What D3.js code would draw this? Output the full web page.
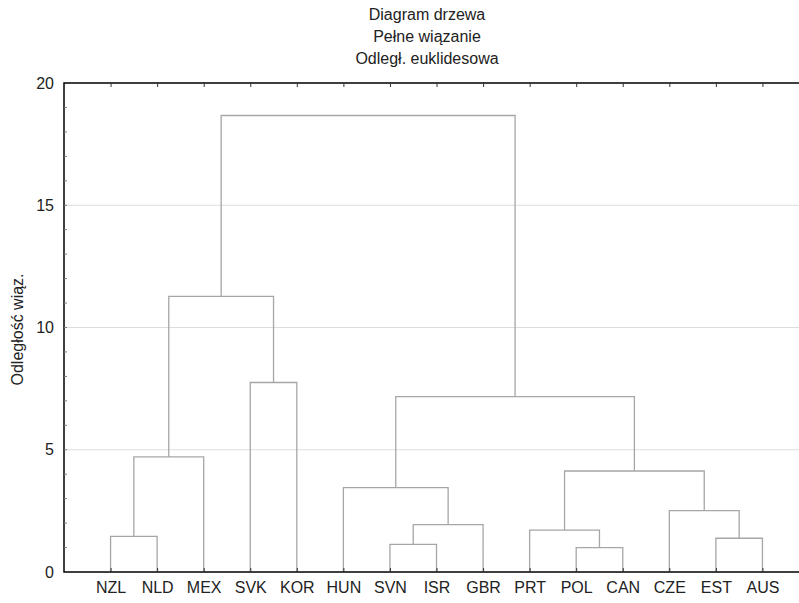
<!DOCTYPE html>
<html>
<head>
<meta charset="utf-8">
<script src="https://cdn.jsdelivr.net/npm/d3@7"></script>
<style>
  body { margin: 0; background: #fff; }
  svg { display: block; font-family: "Liberation Sans", Arial, sans-serif; }
</style>
</head>
<body>
<svg id="chart"></svg>
<script>
// leaf order along the x axis
const leaves = ['NZL','NLD','MEX','SVK','KOR','HUN','SVN','ISR','GBR','PRT','POL','CAN','CZE','EST','AUS'];

// merge steps: cluster m<i> joins mergeA[i] and mergeB[i] at mergeHeight[i]
const mergeA = ['POL','SVN','EST','NZL','PRT','m1','CZE','HUN','m4','m3','m7','SVK','m9','m12'];
const mergeB = ['CAN','ISR','AUS','NLD','m0','GBR','m2','m5','m6','MEX','m8','KOR','m11','m10'];
const mergeHeight = [1.0, 1.13, 1.38, 1.46, 1.71, 1.94, 2.51, 3.45, 4.13, 4.71, 7.17, 7.75, 11.27, 18.67];

const yTicks = [0, 5, 10, 15, 20];
const titleLines = ['Diagram drzewa', 'Pełne wiązanie', 'Odległ. euklidesowa'];
const yLabel = 'Odległość wiąz.';

const W = 799, H = 603;
const margin = {top: 83, bottom: 31, left: 64, right: -10};
const width = W - margin.left - margin.right;
const height = H - margin.top - margin.bottom;

const svg = d3.select('#chart')
.attr('width', W)
.attr('height', H);

const g = svg.append('g')
.attr('transform', `translate(${margin.left}, ${margin.top})`);

const x = d3.scaleLinear()
.domain([-1, leaves.length])
.range([0, width]);

const y = d3.scaleLinear()
.domain([0, 20])
.range([height, 0]);

// grid lines
g.selectAll('.grid')
.data(yTicks.filter(d => d > 0 && d < 20))
.enter()
.append('line')
.attr('x1', 0)
.attr('x2', width)
.attr('y1', d => y(d))
.attr('y2', d => y(d))
.attr('stroke', '#dcdcdc')
.attr('stroke-width', 1);

// build node positions
const pos = {};
leaves.forEach((l, i) => { pos[l] = {x: x(i), h: 0}; });

const links = [];
mergeA.forEach((a, i) => {
  const b = mergeB[i];
  const h = mergeHeight[i];
  const pa = pos[a], pb = pos[b];
  links.push({x1: pa.x, h1: pa.h, x2: pb.x, h2: pb.h, h: h});
  pos['m' + i] = {x: (pa.x + pb.x) / 2, h: h};
});

g.selectAll('.link')
.data(links)
.enter()
.append('path')
.attr('fill', 'none')
.attr('stroke', '#a6a6a6')
.attr('stroke-width', 1.3)
.attr('d', d => `M${d.x1},${y(d.h1)}V${y(d.h)}H${d.x2}V${y(d.h2)}`);

// frame
g.append('rect')
.attr('x', 0)
.attr('y', 0)
.attr('width', width)
.attr('height', height)
.attr('fill', 'none')
.attr('stroke', '#000')
.attr('stroke-width', 1.5);

// left axis: labels outside, minor ticks inside
const yAxis = g.append('g')
.call(d3.axisLeft(y).tickValues(yTicks).tickSize(0).tickPadding(10));
yAxis.select('.domain').remove();
yAxis.selectAll('text')
.style('font-size', '16px')
.attr('fill', '#222')
.style('font-family', '"Liberation Sans", Arial, sans-serif');

g.selectAll('.minor')
.data(d3.range(1, 20))
.enter()
.append('line')
.attr('x1', 0)
.attr('x2', 3)
.attr('y1', d => y(d))
.attr('y2', d => y(d))
.attr('stroke', '#777')
.attr('stroke-width', 1);

// bottom axis with leaf names
const xAxis = g.append('g')
.attr('transform', `translate(0,${height})`)
.call(d3.axisBottom(x).tickValues(d3.range(leaves.length)).tickFormat(i => leaves[i]).tickSizeInner(-4).tickSizeOuter(0).tickPadding(10));
xAxis.select('.domain').remove();
xAxis.selectAll('line').attr('stroke', '#333');
xAxis.selectAll('text')
.style('font-size', '16px')
.attr('fill', '#222')
.style('font-family', '"Liberation Sans", Arial, sans-serif');

// top axis ticks pointing inward
const topAxis = g.append('g')
.call(d3.axisTop(x).tickValues(d3.range(leaves.length)).tickFormat('').tickSizeInner(-4).tickSizeOuter(0));
topAxis.select('.domain').remove();
topAxis.selectAll('line').attr('stroke', '#333');

// titles
svg.selectAll('.title')
.data(titleLines)
.enter()
.append('text')
.attr('x', 427)
.attr('y', (d, i) => 20 + i * 22)
.attr('text-anchor', 'middle')
.style('font-size', '16px')
.attr('fill', '#222')
.text(d => d);

svg.append('text')
.attr('transform', `translate(23, ${margin.top + height / 2 + 2}) rotate(-90)`)
.attr('text-anchor', 'middle')
.style('font-size', '16px')
.attr('fill', '#222')
.text(yLabel);
</script>
</body>
</html>
